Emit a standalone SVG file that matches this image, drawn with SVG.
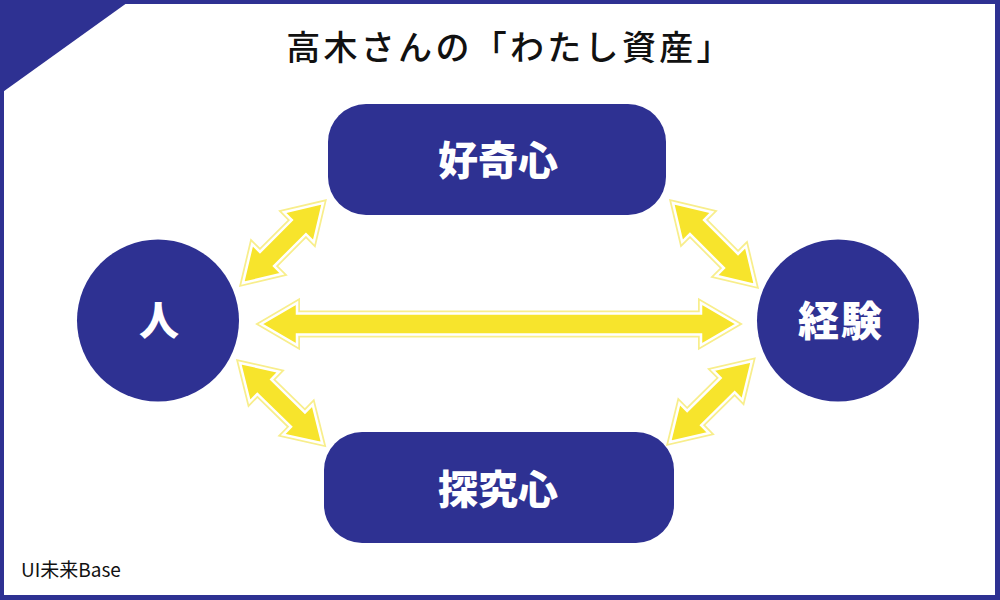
<svg xmlns="http://www.w3.org/2000/svg" width="1000" height="600" viewBox="0 0 1000 600">
<defs>
<style>
.blue{fill:#2e3192}
.lbl{font-family:"Noto Sans CJK JP","Noto Sans",sans-serif;font-weight:900;fill:#ffffff;text-anchor:middle}
.title{font-family:"Noto Sans CJK JP","Noto Sans",sans-serif;font-weight:500;fill:#111111;text-anchor:middle}
.foot{font-family:"Noto Sans CJK JP","Noto Sans",sans-serif;font-weight:400;fill:#111111}
.a1{fill:none;stroke:#f8ee8c;stroke-width:6;stroke-linejoin:miter}
.a2{fill:#f7e42c;stroke:#ffffff;stroke-width:2.5;stroke-linejoin:miter}
</style>
</defs>
<rect x="0" y="0" width="1000" height="600" fill="#ffffff"/>
<path class="blue" fill-rule="evenodd" d="M0,0H1000V600H0Z M4,4V595H995V4Z"/>
<polygon class="blue" points="0,0 131,0 0,94"/>

<text class="title" x="510" y="60" font-size="34" letter-spacing="3.3">高木さんの「わたし資産」</text>

<g id="connectors">
<g transform="translate(261,324)">
<polygon class="a1" points="0,0 36,-21 36,-10.5 440,-10.5 440,-21 476,0 440,21 440,10.5 36,10.5 36,21"/>
<polygon class="a2" points="0,0 36,-21 36,-10.5 440,-10.5 440,-21 476,0 440,21 440,10.5 36,10.5 36,21"/>
</g>
<g transform="translate(243,283) rotate(-45)">
<polygon class="a1" points="0,0 34,-21 34,-10 79,-10 79,-21 113,0 79,21 79,10 34,10 34,21"/>
<polygon class="a2" points="0,0 34,-21 34,-10 79,-10 79,-21 113,0 79,21 79,10 34,10 34,21"/>
</g>
<g transform="translate(673,203) rotate(45)">
<polygon class="a1" points="0,0 34,-21 34,-10 82,-10 82,-21 116,0 82,21 82,10 34,10 34,21"/>
<polygon class="a2" points="0,0 34,-21 34,-10 82,-10 82,-21 116,0 82,21 82,10 34,10 34,21"/>
</g>
<g transform="translate(240,363) rotate(44.3)">
<polygon class="a1" points="0,0 34,-21 34,-10 81,-10 81,-21 115,0 81,21 81,10 34,10 34,21"/>
<polygon class="a2" points="0,0 34,-21 34,-10 81,-10 81,-21 115,0 81,21 81,10 34,10 34,21"/>
</g>
<g transform="translate(670,442) rotate(-44.65)">
<polygon class="a1" points="0,0 34,-21 34,-10 81,-10 81,-21 115,0 81,21 81,10 34,10 34,21"/>
<polygon class="a2" points="0,0 34,-21 34,-10 81,-10 81,-21 115,0 81,21 81,10 34,10 34,21"/>
</g>
</g>

<g id="node-koukishin">
<rect class="blue" x="328" y="104" width="338" height="111" rx="38"/>
<text class="lbl" x="498" y="175" font-size="40">好奇心</text>
</g>
<g id="node-tankyushin">
<rect class="blue" x="324" y="432" width="350" height="111" rx="38"/>
<text class="lbl" x="498" y="504" font-size="40">探究心</text>
</g>
<g id="node-hito">
<circle class="blue" cx="158" cy="320.5" r="81"/>
<text class="lbl" x="159" y="335" font-size="40">人</text>
</g>
<g id="node-keiken">
<circle class="blue" cx="838" cy="320.5" r="81"/>
<text class="lbl" x="841" y="336" font-size="41" letter-spacing="2">経験</text>
</g>

<text class="foot" x="21" y="577" font-size="19">UI未来Base</text>
</svg>
